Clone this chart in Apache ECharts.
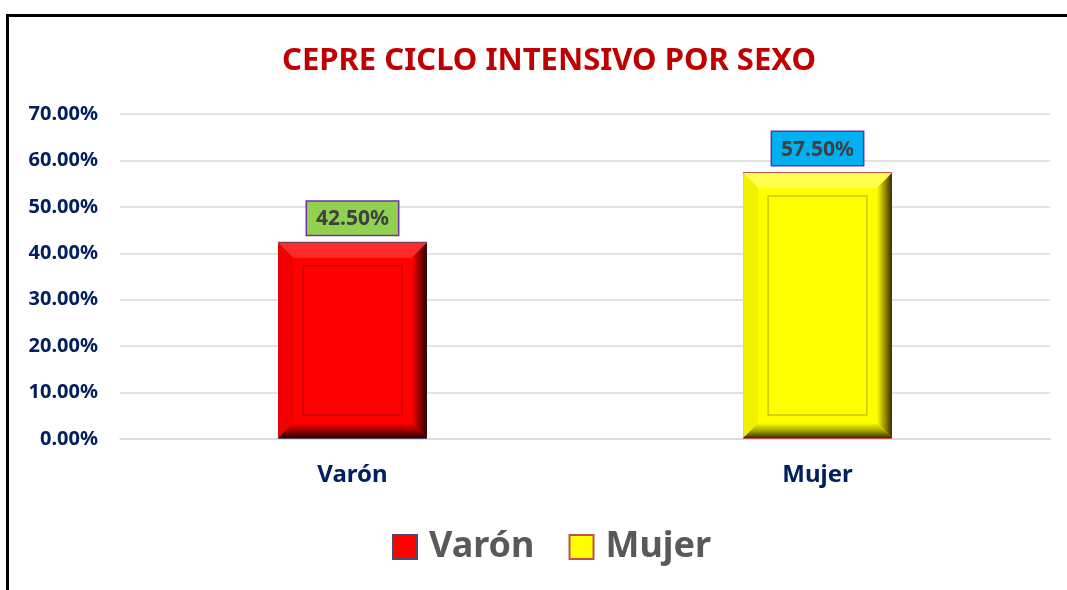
<!DOCTYPE html>
<html>
<head>
<meta charset="utf-8">
<script src="https://cdn.jsdelivr.net/npm/echarts@6/dist/echarts.min.js"></script>
<style>
html,body{margin:0;padding:0;background:#fff;}
#chart{width:1067px;height:590px;}
</style>
</head>
<body>
<div id="chart"></div>
<script>
// datos del grafico
var categorias = ['Varón', 'Mujer'];
var porcentajes = [42.5, 57.5];
var ejeTicks = [0, 10, 20, 30, 40, 50, 60, 70];

var colores = [
    { base: '#ff0000', top: '#ff2a2a', left: '#f00000', right: '#2a0000', bottom: '#9c0000', line: '#c80000', border: '#4b4b6e', label: '#92D050' },
    { base: '#ffff00', top: '#ffff4d', left: '#f2f200', right: '#3a2a00', bottom: '#a8a800', line: '#c8c800', border: '#c0504d', label: '#00B0F0' }
];

var chart = echarts.init(document.getElementById('chart'));

function serieBarra(i) {
    var data = categorias.map(function (c, k) { return k === i ? porcentajes[k] : '-'; });
    return {
        name: categorias[i],
        type: 'bar',
        barWidth: '32%',
        barGap: '-100%',
        data: data,
        itemStyle: { color: colores[i].base, borderColor: colores[i].border, borderWidth: 2 },
        label: {
            show: true,
            position: 'top',
            distance: 7,
            formatter: function (p) { return p.value.toFixed(2) + '%'; },
            backgroundColor: colores[i].label,
            borderColor: '#7030A0',
            borderWidth: 1.5,
            padding: [7, 9, 5, 9],
            color: '#404040',
            fontSize: 21,
            fontWeight: 'bold',
            fontFamily: 'Noto Sans'
        },
        z: 2
    };
}

// relieve (bisel) encima de cada barra
function relieve(params, api) {
    var idx = api.value(0);
    var c = colores[idx];
    var top = api.coord([idx, api.value(1)]);
    var bot = api.coord([idx, 0]);
    var w = api.size([1, 0])[0] * 0.32;
    var x0 = top[0] - w / 2, x1 = top[0] + w / 2;
    var y0 = top[1] + 1, y1 = bot[1] - 1;
    var b = 15;
    function poly(pts, fill) {
        return { type: 'polygon', shape: { points: pts }, style: { fill: fill } };
    }
    return {
        type: 'group',
        children: [
            poly([[x0, y0], [x1, y0], [x1 - b, y0 + b], [x0 + b, y0 + b]], c.top),
            poly([[x0, y0], [x0 + b, y0 + b], [x0 + b, y1 - b], [x0, y1]], c.left),
            poly([[x1, y0], [x1, y1], [x1 - b, y1 - b], [x1 - b, y0 + b]], new echarts.graphic.LinearGradient(1, 0, 0, 0, [
                { offset: 0, color: c.right }, { offset: 1, color: c.base }
            ])),
            poly([[x0, y1], [x0 + b, y1 - b], [x1 - b, y1 - b], [x1, y1]], new echarts.graphic.LinearGradient(0, 1, 0, 0, [
                { offset: 0, color: c.right }, { offset: 0.5, color: c.bottom }, { offset: 1, color: c.base }
            ])),
            {
                type: 'rect',
                shape: { x: x0 + b + 10, y: y0 + b + 8, width: w - 2 * b - 20, height: y1 - y0 - 2 * b - 16 },
                style: { fill: 'none', stroke: c.line, lineWidth: 1.5 }
            }
        ]
    };
}

var option = {
    backgroundColor: '#fff',
    title: {
        text: 'CEPRE CICLO INTENSIVO POR SEXO',
        left: 277,
        top: 41,
        textStyle: { color: '#C00000', fontSize: 31, fontWeight: 'bold', fontFamily: 'Noto Sans' }
    },
    graphic: [{
        type: 'rect',
        shape: { x: 7.5, y: 15.5, width: 1100, height: 600 },
        style: { fill: 'none', stroke: '#000', lineWidth: 3 },
        z: 100
    }],
    legend: {
        data: categorias,
        bottom: 25,
        left: 392,
        padding: 0,
        icon: 'rect',
        itemWidth: 24,
        itemHeight: 24,
        itemGap: 34,
        textStyle: { color: '#595959', fontSize: 36, fontWeight: 'bold', fontFamily: 'Noto Sans', padding: [0, 0, 0, 7] }
    },
    grid: { left: 120, right: 17, top: 114, bottom: 151, containLabel: false },
    xAxis: {
        type: 'category',
        data: categorias,
        axisTick: { show: false },
        axisLine: { lineStyle: { color: '#d9d9d9', width: 1.5 } },
        axisLabel: { color: '#002060', fontSize: 24, fontWeight: 'bold', fontFamily: 'Noto Sans', margin: 24 }
    },
    yAxis: {
        type: 'value',
        min: ejeTicks[0],
        max: ejeTicks[ejeTicks.length - 1],
        interval: 10,
        axisLine: { show: false },
        axisTick: { show: false },
        splitLine: { lineStyle: { color: '#d9d9d9', width: 1.5 } },
        axisLabel: {
            color: '#002060', fontSize: 20, fontWeight: 'bold', fontFamily: 'Noto Sans', margin: 22,
            formatter: function (v) { return v.toFixed(2) + '%'; }
        }
    },
    series: [
        serieBarra(0),
        serieBarra(1),
        {
            type: 'custom',
            silent: true,
            renderItem: relieve,
            encode: { x: 0, y: 1 },
            data: porcentajes.map(function (v, i) { return [i, v]; }),
            z: 3
        }
    ]
};

chart.setOption(option);
</script>
</body>
</html>
